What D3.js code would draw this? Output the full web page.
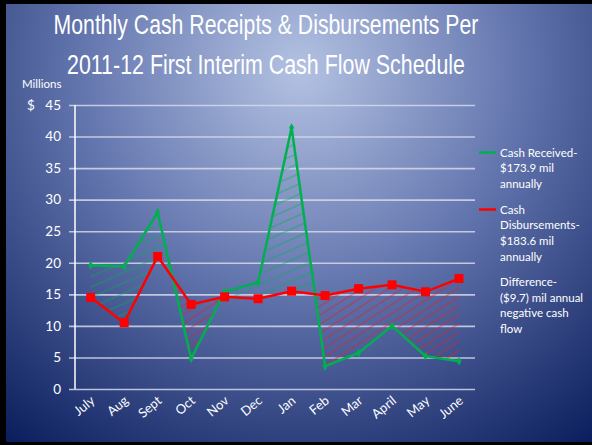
<!DOCTYPE html>
<html>
<head>
<meta charset="utf-8">
<script src="https://cdn.jsdelivr.net/npm/d3@7"></script>
<style>
  body { margin: 0; background: #000; }
  svg { display: block; }
</style>
</head>
<body>
<div class="chart-div"></div>
<script>
//--------------------------- Data

var months = ["July", "Aug", "Sept", "Oct", "Nov", "Dec", "Jan", "Feb", "Mar", "April", "May", "June"];
var received = [19.6, 19.4, 28.0, 4.8, 15.4, 16.9, 41.4, 3.6, 5.7, 10.0, 5.2, 4.4];
var disbursed = [14.5, 10.5, 21.0, 13.4, 14.6, 14.3, 15.5, 14.8, 15.9, 16.5, 15.4, 17.5];
var yTicks = [0, 5, 10, 15, 20, 25, 30, 35, 40, 45];
var titleLines = ["Monthly Cash Receipts & Disbursements Per", "2011-12 First Interim Cash Flow Schedule"];
var legendReceived = ["Cash Received-", "$173.9 mil", "annually"];
var legendDisbursed = ["Cash", "Disbursements-", "$183.6 mil", "annually"];
var legendDifference = ["Difference-", "($9.7) mil annual", "negative cash", "flow"];

//--------------------------- SVG definition

var width = 592;
var height = 445;
var font = "Lato, 'Open Sans', sans-serif";
var green = "#00b050";
var red = "#ff0000";

var svg = d3.select("div.chart-div")
    .append("svg")
    .attr("width", width)
    .attr("height", height);

var defs = svg.append("defs");

var bg = defs.append("radialGradient")
    .attr("id", "bg")
    .attr("gradientUnits", "userSpaceOnUse")
    .attr("cx", 300).attr("cy", 70).attr("r", 470);
bg.append("stop").attr("offset", "0%").attr("stop-color", "#b3c2e2");
bg.append("stop").attr("offset", "45%").attr("stop-color", "#6678b0");
bg.append("stop").attr("offset", "100%").attr("stop-color", "#0b1f5e");

// hatch patterns
function hatch(id, color, angle, gap, op) {
    var p = defs.append("pattern")
        .attr("id", id)
        .attr("patternUnits", "userSpaceOnUse")
        .attr("width", 20).attr("height", gap)
        .attr("patternTransform", "rotate(" + angle + ")");
    p.append("line")
        .attr("x1", 0).attr("x2", 20)
        .attr("y1", gap / 2).attr("y2", gap / 2)
        .attr("stroke", color)
        .attr("stroke-width", 0.9)
        .attr("stroke-opacity", op);
}
hatch("hatchGreen", "#00b050", -24, 9.5, 0.75);
hatch("hatchRed", "#e0202a", -33, 7.5, 0.85);

//--------------------------- Background

svg.append("rect")
    .attr("x", 6).attr("y", 4)
    .attr("width", width - 6).attr("height", height - 7)
    .attr("fill", "url(#bg)");

//--------------------------- Title (condensed by a horizontal scale)

var titleWidths = [425, 398];
svg.append("g").selectAll("text").data(titleLines).enter()
    .append("text")
    .attr("text-anchor", "middle")
    .attr("font-family", "'Liberation Sans', Arial, sans-serif")
    .attr("font-size", 27)
    .style("fill", "white")
    .text(function (d) { return d; })
    .attr("transform", function (d, i) {
        var k = titleWidths[i] / this.getComputedTextLength();
        return "translate(266," + (34 + i * 40) + ") scale(" + k + ",1)";
    });

//--------------------------- Scales

var x = d3.scalePoint().domain(months).range([90.7, 459]);
var y = d3.scaleLinear().domain([0, 45]).range([389, 105]);

//--------------------------- Grid and axes

var grid = svg.append("g")
    .attr("transform", "translate(69,0)")
    .call(d3.axisRight(y).tickValues(yTicks).tickSize(406).tickFormat(""));
grid.select(".domain").remove();
grid.selectAll("line")
    .attr("stroke", "#d4d9ea")
    .attr("stroke-opacity", 0.85)
    .attr("stroke-width", 1.6);

var yAxis = svg.append("g")
    .attr("transform", "translate(61,0)")
    .call(d3.axisLeft(y).tickValues(yTicks).tickSize(0).tickPadding(0));
yAxis.select(".domain").remove();
yAxis.selectAll("text")
    .attr("font-family", font)
    .attr("font-size", 13.5)
    .style("fill", "white");

svg.append("line")
    .attr("x1", 75).attr("x2", 75)
    .attr("y1", y(45)).attr("y2", y(0))
    .attr("stroke", "white")
    .attr("stroke-width", 1.5);

svg.append("text")
    .attr("x", 22).attr("y", 88)
    .attr("font-family", font).attr("font-size", 11.5)
    .style("fill", "white")
    .text("Millions");
svg.append("text")
    .attr("x", 27).attr("y", y(45) + 4.5)
    .attr("font-family", font).attr("font-size", 13.5)
    .style("fill", "white")
    .text("$");

var xAxis = svg.append("g");
xAxis.selectAll("text").data(months).enter()
    .append("text")
    .attr("transform", function (d) { return "translate(" + (x(d) + 5) + ",402) rotate(-40)"; })
    .attr("text-anchor", "end")
    .attr("font-family", font)
    .attr("font-size", 13)
    .style("fill", "white")
    .text(function (d) { return d; });

//--------------------------- Hatched difference areas

var rows = months.map(function (m, i) { return { m: m, r: received[i], d: disbursed[i] }; });

var between = d3.area()
    .x(function (d) { return x(d.m); })
    .y0(function (d) { return y(d.d); })
    .y1(function (d) { return y(d.r); });
var aboveRed = d3.area()
    .x(function (d) { return x(d.m); })
    .y0(function (d) { return y(d.d); })
    .y1(0);
var belowRed = d3.area()
    .x(function (d) { return x(d.m); })
    .y0(function (d) { return y(d.d); })
    .y1(height);

defs.append("clipPath").attr("id", "clipAbove").append("path").attr("d", aboveRed(rows));
defs.append("clipPath").attr("id", "clipBelow").append("path").attr("d", belowRed(rows));

svg.append("path")
    .attr("d", between(rows))
    .attr("fill", "url(#hatchGreen)")
    .attr("clip-path", "url(#clipAbove)");
svg.append("path")
    .attr("d", between(rows))
    .attr("fill", "url(#hatchRed)")
    .attr("clip-path", "url(#clipBelow)");

//--------------------------- Lines and markers

var lineR = d3.line().x(function (d) { return x(d.m); }).y(function (d) { return y(d.r); });
var lineD = d3.line().x(function (d) { return x(d.m); }).y(function (d) { return y(d.d); });

svg.append("path")
    .attr("d", lineR(rows))
    .attr("fill", "none")
    .attr("stroke", green)
    .attr("stroke-width", 2.5);
svg.append("path")
    .attr("d", lineD(rows))
    .attr("fill", "none")
    .attr("stroke", red)
    .attr("stroke-width", 2.5);

svg.append("g").selectAll("path").data(rows).enter()
    .append("path")
    .attr("d", d3.symbol().type(d3.symbolDiamond).size(22))
    .attr("transform", function (d) { return "translate(" + x(d.m) + "," + y(d.r) + ")"; })
    .attr("fill", green);

svg.append("g").selectAll("rect").data(rows).enter()
    .append("rect")
    .attr("x", function (d) { return x(d.m) - 4.5; })
    .attr("y", function (d) { return y(d.d) - 4.5; })
    .attr("width", 9).attr("height", 9)
    .attr("fill", red);

//--------------------------- Legend

function legendBlock(lines, top, color) {
    if (color) {
        svg.append("line")
            .attr("x1", 479).attr("x2", 496)
            .attr("y1", top - 4).attr("y2", top - 4)
            .attr("stroke", color)
            .attr("stroke-width", 2.5);
    }
    svg.append("g").selectAll("text").data(lines).enter()
        .append("text")
        .attr("x", 500)
        .attr("y", function (d, i) { return top + i * 15.7; })
        .attr("font-family", font)
        .attr("font-size", 11.5)
        .style("fill", "white")
        .text(function (d) { return d; });
}
legendBlock(legendReceived, 156.5, green);
legendBlock(legendDisbursed, 213.5, red);
legendBlock(legendDifference, 286, null);
</script>
</body>
</html>
